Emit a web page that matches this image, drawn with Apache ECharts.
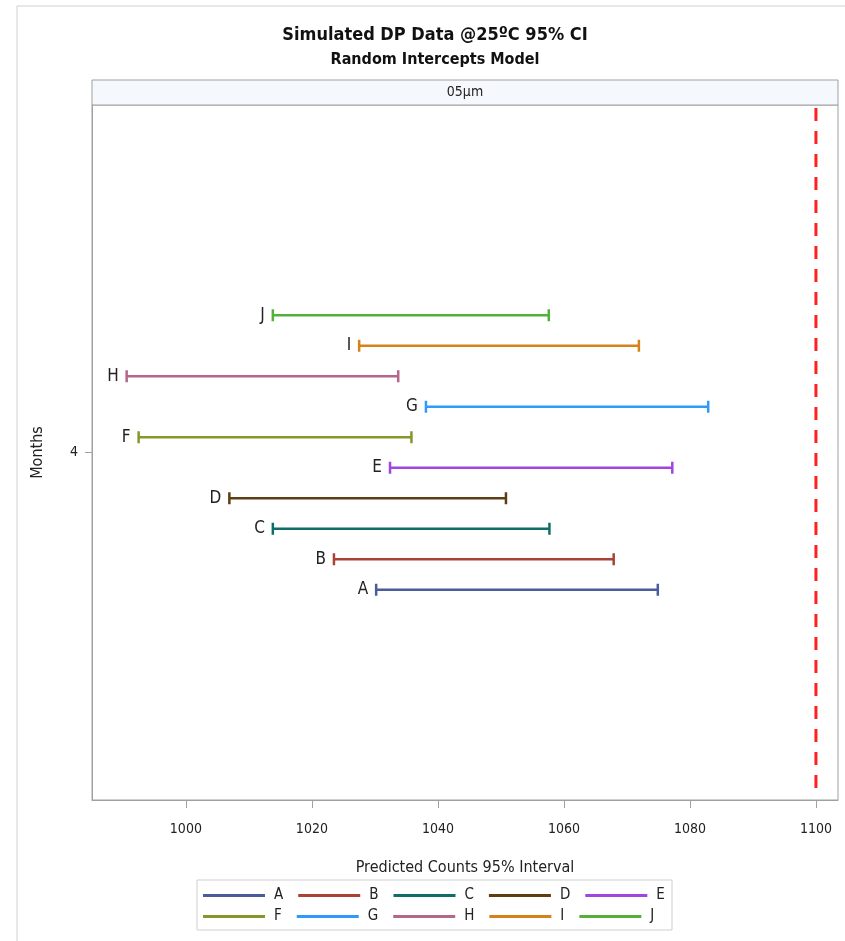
<!DOCTYPE html>
<html>
<head>
<meta charset="utf-8">
<script src="https://cdn.jsdelivr.net/npm/echarts@6/dist/echarts.min.js"></script>
<style>html,body{margin:0;padding:0;background:#fff}#c{width:845px;height:941px}</style>
</head>
<body>
<div id="c"></div>
<script>
// ---- data ----
const groups = ['A','B','C','D','E','F','G','H','I','J'];
const lower  = [1030.2,1023.5,1013.8,1006.9,1032.4,992.5,1038.1,990.6,1027.5,1013.8];
const upper  = [1074.9,1067.9,1057.7,1050.8,1077.2,1035.8,1082.9,1033.7,1071.9,1057.6];
const months = [4];
const xTicks = [1000,1020,1040,1060,1080,1100];
const refLine = 1100;
const colors = ['#4a5c9c','#aa4236','#0f6e66','#5e3d14','#a046de','#87962a','#3199f7','#b4678a','#d5821a','#55b03a'];

const FONT = "'Liberation Sans Narrow','DejaVu Sans Condensed','Liberation Sans',sans-serif";
const GRID = {left:92, right:7, top:105, bottom:141};
const W = 845, H = 941;
const ROW_STEP = 30.5;
const CAP = 6;

const chart = echarts.init(document.getElementById('c'), null, {renderer:'canvas'});

const series = groups.map((g, i) => ({
  name: g,
  type: 'custom',
  color: colors[i],
  encode: {x:[0,1], y:2},
  data: [[lower[i], upper[i], months[0]]],
  renderItem: (params, api) => {
    const idx = params.seriesIndex;
    const lo = api.coord([api.value(0), api.value(2)]);
    const hi = api.coord([api.value(1), api.value(2)]);
    const y = lo[1] + (4.5 - idx) * ROW_STEP;
    const st = {stroke: colors[idx], lineWidth: 2.5};
    return {type:'group', children:[
      {type:'line', shape:{x1:lo[0], y1:y, x2:hi[0], y2:y}, style:st},
      {type:'line', shape:{x1:lo[0], y1:y-CAP, x2:lo[0], y2:y+CAP}, style:st},
      {type:'line', shape:{x1:hi[0], y1:y-CAP, x2:hi[0], y2:y+CAP}, style:st},
      {type:'text', x:lo[0]-8, y:y, style:{text:groups[idx], fill:'#222', font:'17px '+FONT, align:'right', verticalAlign:'middle'}}
    ]};
  }
}));

series.push({
  name: 'ref',
  type: 'custom',
  silent: true,
  encode: {x:0, y:1},
  data: [[refLine, months[0]]],
  renderItem: (params, api) => {
    const p = api.coord([api.value(0), api.value(1)]);
    const cs = params.coordSys;
    return {type:'line', shape:{x1:p[0], y1:cs.y + 3, x2:p[0], y2:cs.y + cs.height - 8},
            style:{stroke:'#ff2020', lineWidth:3, lineDash:[13,10]}};
  }
});

const plotW = W - GRID.left - GRID.right;

chart.setOption({
  animation: false,
  backgroundColor: '#fff',
  textStyle: {fontFamily: FONT},
  grid: {left:GRID.left, right:GRID.right, top:GRID.top, bottom:GRID.bottom, show:true, borderColor:'#a0a0a0', borderWidth:1, backgroundColor:'#fff'},
  xAxis: {
    type:'value', min:985.1, max:1103.5,
    name:'Predicted Counts 95% Interval', nameLocation:'middle', nameGap:60,
    nameTextStyle:{fontSize:16, color:'#222', fontFamily:FONT},
    axisLine:{show:true, lineStyle:{color:'#a0a0a0'}},
    axisTick:{show:true, length:8, customValues:xTicks, lineStyle:{color:'#a0a0a0'}},
    axisLabel:{customValues:xTicks, margin:22, fontSize:14, color:'#222', fontFamily:FONT, formatter: v => String(v)},
    splitLine:{show:false}
  },
  yAxis: {
    type:'value', min:3, max:5,
    name:'Months', nameLocation:'middle', nameGap:46,
    nameTextStyle:{fontSize:16, color:'#222', fontFamily:FONT},
    axisLine:{show:true, lineStyle:{color:'#a0a0a0'}},
    axisTick:{show:true, length:7, customValues:months, lineStyle:{color:'#a0a0a0'}},
    axisLabel:{customValues:months, margin:14, fontSize:14, color:'#222', fontFamily:FONT, formatter: v => String(v)},
    splitLine:{show:false}
  },
  legend: [
    {data:groups.slice(0,5), left:203, top:888, itemWidth:62, itemHeight:3, icon:'rect', itemGap:15, padding:0,
     textStyle:{fontSize:15, color:'#222', fontFamily:FONT, width:14, padding:[0,0,0,4]}},
    {data:groups.slice(5), left:203, top:909, itemWidth:62, itemHeight:3, icon:'rect', itemGap:15, padding:0,
     textStyle:{fontSize:15, color:'#222', fontFamily:FONT, width:14, padding:[0,0,0,4]}}
  ],
  graphic: [
    {type:'rect', shape:{x:17, y:6, width:W, height:H}, style:{fill:'none', stroke:'#d0d0d0', lineWidth:1}, silent:true, z:-10},
    {type:'text', x:435, y:35, style:{text:'Simulated DP Data @25ºC 95% CI', font:'bold 18px '+FONT, fill:'#111', align:'center', verticalAlign:'middle'}},
    {type:'text', x:435, y:60, style:{text:'Random Intercepts Model', font:'bold 16px '+FONT, fill:'#111', align:'center', verticalAlign:'middle'}},
    {type:'rect', shape:{x:GRID.left, y:80, width:plotW, height:GRID.top-80}, style:{fill:'#f5f8fd', stroke:'#a0a0a0', lineWidth:1}},
    {type:'text', x:GRID.left + plotW/2, y:92, style:{text:'05µm', font:'14px '+FONT, fill:'#222', align:'center', verticalAlign:'middle'}},
    {type:'rect', shape:{x:197, y:880, width:475, height:50}, style:{fill:'none', stroke:'#cfcfcf', lineWidth:1}, silent:true}
  ],
  series: series
});
</script>
</body>
</html>
